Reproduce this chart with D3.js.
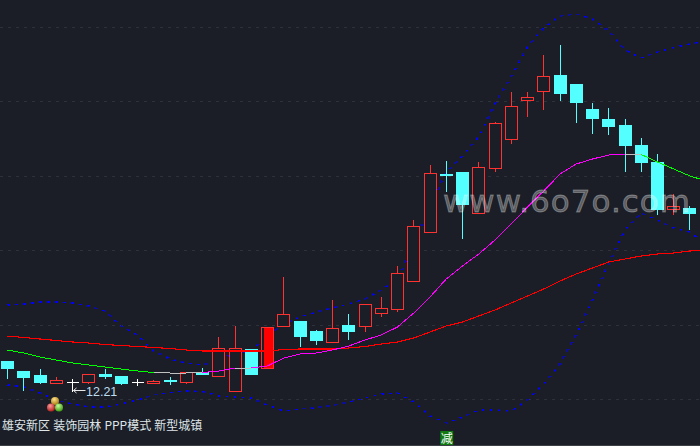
<!DOCTYPE html>
<html><head><meta charset="utf-8">
<script src="https://cdnjs.cloudflare.com/ajax/libs/d3/7.8.5/d3.min.js"></script>
<style>html,body{margin:0;padding:0;background:#1b1e26;overflow:hidden}svg{display:block}</style>
</head><body><svg id="c" width="700" height="446"></svg>
<script>
const opens =[13.41,13.01,12.85,12.53,12.57,12.57,12.89,12.81,12.57,12.53,12.65,12.57,12.97,12.81,12.21,13.89,13.13,14.81,15.01,14.61,14.17,14.85,14.81,15.33,15.49,16.61,18.57,20.89,20.97,19.33,21.13,22.29,23.85,24.21,24.85,24.49,23.49,23.09,22.85,22.05,21.37,19.49,19.53];
const highs =[13.41,13.01,13.09,12.77,12.69,12.89,13.09,12.81,12.69,12.65,12.77,12.97,13.13,14.37,14.81,13.89,14.77,16.77,15.01,14.65,15.85,15.29,15.69,15.97,17.21,19.05,21.25,21.41,20.97,21.37,22.97,24.17,24.17,25.65,26.05,24.49,23.73,23.53,23.09,22.33,21.69,20.09,19.61];
const lows  =[12.69,12.21,12.49,12.53,12.17,12.49,12.69,12.45,12.41,12.53,12.45,12.49,12.85,12.81,12.21,12.85,13.13,14.77,13.97,14.05,14.17,14.25,14.57,15.17,15.37,16.57,18.57,20.17,18.29,19.33,20.97,22.09,23.17,23.45,23.81,22.93,22.49,22.45,20.97,20.97,19.25,19.25,18.65];
const closes=[13.09,12.73,12.53,12.65,12.57,12.89,12.77,12.49,12.57,12.61,12.63,12.97,12.85,13.93,13.93,12.85,14.77,15.29,14.37,14.21,14.73,14.57,15.69,15.53,16.93,18.81,20.93,20.87,19.65,21.17,22.93,23.61,23.97,24.81,24.09,23.73,23.09,22.77,22.01,21.33,19.45,19.61,19.29];
const solidUp=[16];
const maLong=[14.41,14.35,14.29,14.23,14.17,14.13,14.07,14.03,13.99,13.95,13.91,13.85,13.81,13.81,13.81,13.81,13.81,13.87,13.89,13.89,13.89,13.93,13.99,14.09,14.17,14.33,14.57,14.81,14.97,15.21,15.45,15.73,16.01,16.29,16.61,16.89,17.13,17.37,17.49,17.61,17.69,17.73,17.81,17.85];
const maMid=[13.85,13.73,13.57,13.45,13.33,13.25,13.17,13.09,13.01,12.95,12.93,12.93,12.95,13.01,13.13,13.13,13.21,13.53,13.69,13.73,13.85,14.01,14.25,14.45,14.77,15.33,15.97,16.69,17.21,17.69,18.25,18.89,19.57,20.21,20.89,21.29,21.49,21.65,21.69,21.67,21.37,21.09,20.81,20.61];
const bandUpper=[15.65,15.69,15.77,15.77,15.73,15.61,15.41,14.81,14.45,13.81,13.49,13.33,13.25,13.45,13.73,13.81,14.41,14.89,15.17,15.37,15.53,15.69,15.89,16.25,16.69,18.05,19.61,20.97,21.61,22.37,23.69,24.77,25.97,26.73,27.21,27.29,27.09,26.61,25.85,25.53,25.77,25.95,26.09,26.21];
const bandLower=[12.45,12.37,12.13,11.85,11.69,11.57,11.57,11.69,11.85,12.05,12.15,12.21,12.19,12.01,11.97,11.93,11.65,11.41,11.49,11.55,11.63,11.77,11.93,12.09,12.13,11.77,11.21,10.93,11.17,11.45,11.45,11.41,11.85,12.49,13.29,14.45,15.85,17.33,18.65,19.33,19.05,18.73,18.57,18.05];
const gridPrices=[26.77,23.81,20.81,17.85,14.85,11.89];
const lowLabel="12.21";
const caption="雄安新区 装饰园林 PPP模式 新型城镇";
const watermark="www.6o7o.com";
const signalIndex=27, signalText="减";

const W=700,H=446, RED="#ff3232", CYAN="#54ffff";
const svg=d3.select("#c");
const x=d3.scaleLinear().domain([0,43]).range([7.5,706.25]);
const y=d3.scaleLinear().domain([10.01,27.85]).range([H,0]);
const snap=v=>Math.round(v)+0.5;
svg.append("rect").attr("width",W).attr("height",H).attr("fill","#1b1e26");
svg.append("g").selectAll("line").data(gridPrices).join("line")
  .attr("x1",0).attr("x2",W).attr("y1",d=>snap(y(d))).attr("y2",d=>snap(y(d)))
  .attr("stroke","#2e3138").attr("stroke-dasharray","3 5");

const line=d3.line().x((d,i)=>x(i)).y(d=>y(d));
function band(vals){svg.append("path").attr("d",line(vals)).attr("fill","none").attr("stroke","#0000ff").attr("stroke-width",1.5).attr("stroke-dasharray","2.5 5.5").attr("shape-rendering","crispEdges");}
band(bandUpper);band(bandLower);

const gC=svg.append("g").attr("shape-rendering","crispEdges");
opens.forEach((o,i)=>{
  const c=closes[i],hi=highs[i],lo=lows[i];
  const cx=Math.floor(x(i))+0.5;
  const top=Math.max(o,c),bot=Math.min(o,c);
  const doji=o===c, up=c>o;
  const col=doji?"#ffffff":(up?RED:CYAN);
  gC.append("line").attr("x1",cx).attr("x2",cx).attr("y1",y(hi)).attr("y2",y(lo)).attr("stroke",col);
  if(doji){
    gC.append("line").attr("x1",cx-6).attr("x2",cx+6).attr("y1",snap(y(o))).attr("y2",snap(y(o))).attr("stroke",col);
  } else if(up){
    gC.append("rect").attr("x",cx-6).attr("width",12).attr("y",snap(y(top))).attr("height",Math.max(1,Math.round(y(bot)-y(top))))
      .attr("fill","#1b1e26").attr("stroke",RED);
    if(solidUp.includes(i)) gC.append("rect").attr("x",cx-4).attr("width",9).attr("y",y(top)+1).attr("height",y(bot)-y(top)-1).attr("fill","#ff0000");
  } else {
    gC.append("rect").attr("x",cx-6.5).attr("width",13).attr("y",Math.round(y(top))).attr("height",Math.max(2,Math.round(y(bot)-y(top)))).attr("fill",CYAN);
  }
});

const gL=svg.append("g").attr("shape-rendering","crispEdges").attr("fill","none");
gL.append("path").attr("d",line(maLong)).attr("stroke","#ff0000").attr("stroke-width",1.1);
maMid.slice(1).forEach((v,i)=>{
  const d=v-maMid[i];
  const col=Math.abs(d)<0.03?"#c0c0c0":(d>0?"#ff00ff":"#00ff00");
  gL.append("line").attr("x1",x(i)).attr("y1",y(maMid[i])).attr("x2",x(i+1)).attr("y2",y(v)).attr("stroke",col).attr("stroke-width",1);
});

svg.append("text").attr("x",443).attr("y",y(19.37)).attr("font-family","'DejaVu Sans',sans-serif").attr("font-size",31)
  .attr("textLength",247).attr("fill","#ffffff").attr("fill-opacity",0.3).attr("stroke","#ffffff").attr("stroke-opacity",0.3).attr("stroke-width",0.8).text(watermark);

// low marker
const lowI=4;
const lx=x(lowI), ly=y(12.21);
svg.append("path").attr("d",`M${lx+1},${ly-0.5}L${lx+13},${ly-0.5}M${lx+1},${ly-0.5}L${lx+4},${ly-3}M${lx+1},${ly-0.5}L${lx+4},${ly+2}`).attr("stroke","#e8e8e8").attr("fill","none");
svg.append("text").attr("x",lx+13.5).attr("y",ly+4.5).attr("font-family","'Liberation Sans',sans-serif").attr("font-size",12.5).attr("fill","#bcdcf0").text(lowLabel);

// decorative balls
const defs=svg.append("defs");
[["bG","#ffe08a","#a87d10"],["bR","#ff9a9a","#b0201c"],["bV","#c4ff9a","#3f9e12"]].forEach(([id,a,b])=>{
  const g=defs.append("radialGradient").attr("id",id).attr("cx","40%").attr("cy","30%").attr("r","70%");
  g.append("stop").attr("offset","0").attr("stop-color",a);
  g.append("stop").attr("offset","1").attr("stop-color",b);
});
[[55,401,"bG"],[51,407.5,"bR"],[59,407.5,"bV"]].forEach(([a,b,id])=>svg.append("circle").attr("cx",a).attr("cy",b).attr("r",4).attr("fill",`url(#${id})`));

svg.append("text").attr("x",2).attr("y",430).attr("font-family","'Noto Sans CJK SC',sans-serif").attr("font-size",12).attr("word-spacing",0.5).attr("fill","#dfe6ea").text(caption);

// signal badge
const sx=x(signalIndex);
svg.append("rect").attr("x",sx-6).attr("y",431).attr("width",13).attr("height",14).attr("fill","#0f7a12");
svg.append("text").attr("x",sx+0.5).attr("y",442.5).attr("text-anchor","middle").attr("font-family","'Noto Sans CJK SC',sans-serif").attr("font-size",12).attr("fill","#ffffff").text(signalText);

svg.append("line").attr("x1",0).attr("x2",W).attr("y1",445.5).attr("y2",445.5).attr("stroke","#3c3f46");
</script></body></html>
